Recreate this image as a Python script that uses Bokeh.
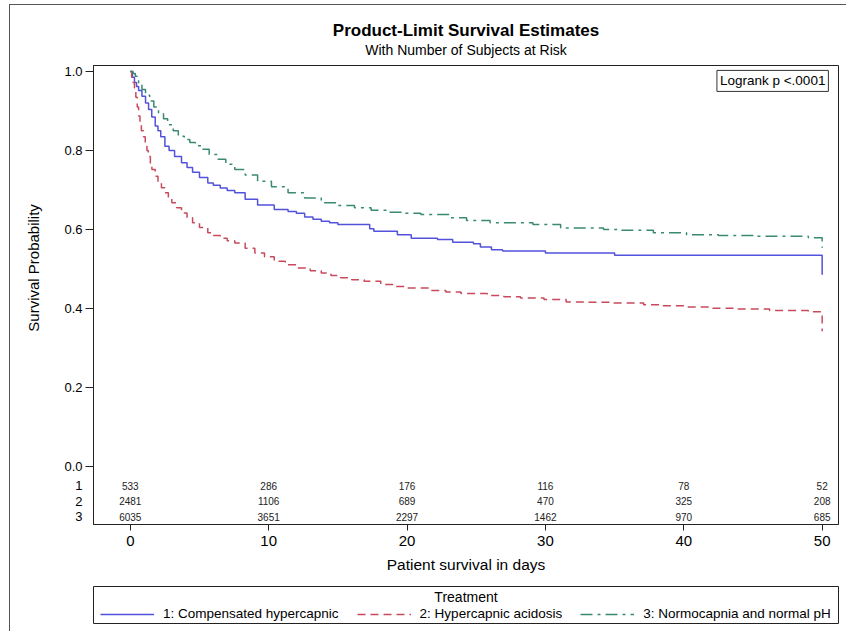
from bokeh.plotting import figure
from bokeh.layouts import column
from bokeh.models import (Range1d, FixedTicker, Label, Legend, LegendItem,
                          ColumnDataSource, PrintfTickFormatter, Title, LinearAxis)
from bokeh.core.properties import value
from bokeh.embed import file_html
from bokeh.resources import INLINE

FONT = "Liberation Sans"
NB = "\u00a0"

# ---------------- data ----------------
blue_t = [0, 0.15, 0.3, 0.45, 0.6, 0.84, 1.1, 1.32, 1.55, 1.8, 2.0, 2.2, 2.5, 2.8, 3.2,
          3.7, 4.1, 4.5, 5.0, 5.6, 6.0, 6.5, 7.0, 7.55, 8.3, 9.2, 10.4, 11.4, 12.0, 12.6,
          13.2, 13.8, 14.4, 15.0, 17.3, 17.6, 19.3, 20.3, 22.2, 23.3, 24.8, 25.3, 26.1,
          26.9, 30.0, 35.0, 50.0, 50.0]
blue_s = [1.0, 0.985, 0.972, 0.962, 0.952, 0.937, 0.92, 0.904, 0.885, 0.862, 0.85, 0.835,
          0.811, 0.8, 0.785, 0.769, 0.757, 0.745, 0.732, 0.718, 0.712, 0.705, 0.699, 0.693,
          0.677, 0.662, 0.651, 0.646, 0.641, 0.632, 0.626, 0.621, 0.617, 0.613, 0.602,
          0.596, 0.587, 0.578, 0.575, 0.568, 0.564, 0.556, 0.549, 0.546, 0.541, 0.535,
          0.535, 0.486]

red_t = [0, 0.1, 0.2, 0.3, 0.4, 0.5, 0.6, 0.7, 0.8, 0.95, 1.08, 1.2, 1.3, 1.45, 1.56,
         1.8, 2.0, 2.25, 2.5, 2.75, 3.0, 3.35, 3.7, 4.1, 4.5, 5.0, 5.6, 6.0, 6.5, 7.0,
         7.55, 8.3, 9.0, 9.7, 10.4, 11.2, 12.1, 13.0, 13.8, 14.5, 15.2, 16.0, 16.9, 18.1,
         19.0, 19.8, 21.7, 22.8, 23.9, 25.8, 27.0, 28.2, 29.9, 31.5, 33.0, 34.7, 37.1,
         38.5, 40.2, 42.0, 43.8, 46.2, 49.0, 50.0, 50.0]
red_s = [1.0, 0.985, 0.972, 0.958, 0.935, 0.91, 0.887, 0.868, 0.85, 0.835, 0.82, 0.8,
         0.785, 0.768, 0.752, 0.735, 0.72, 0.706, 0.693, 0.68, 0.668, 0.655, 0.642, 0.63,
         0.617, 0.605, 0.592, 0.585, 0.578, 0.572, 0.566, 0.553, 0.541, 0.531, 0.52,
         0.511, 0.503, 0.496, 0.49, 0.484, 0.478, 0.473, 0.469, 0.461, 0.456, 0.452,
         0.446, 0.442, 0.438, 0.433, 0.43, 0.427, 0.423, 0.417, 0.416, 0.414, 0.41,
         0.407, 0.404, 0.401, 0.399, 0.395, 0.392, 0.392, 0.343]

green_t = [0, 0.2, 0.36, 0.6, 0.84, 1.1, 1.4, 1.7, 2.04, 2.4, 2.7, 3.1, 3.47, 3.9, 4.3,
           4.7, 5.16, 5.7, 6.3, 6.9, 7.55, 8.3, 9.2, 10.2, 11.4, 12.6, 13.8, 15.0, 16.2,
           17.4, 18.6, 19.8, 21.0, 23.1, 24.3, 26.0, 29.1, 31.1, 34.2, 35.4, 37.8, 40.2,
           42.5, 45.0, 49.0, 50.0, 50.0]
green_s = [1.0, 0.995, 0.988, 0.97, 0.954, 0.94, 0.925, 0.91, 0.895, 0.88, 0.865, 0.85,
           0.836, 0.828, 0.82, 0.812, 0.803, 0.79, 0.778, 0.765, 0.752, 0.738, 0.722,
           0.708, 0.693, 0.68, 0.668, 0.661, 0.655, 0.649, 0.644, 0.641, 0.638, 0.63,
           0.623, 0.617, 0.613, 0.604, 0.6, 0.598, 0.592, 0.587, 0.585, 0.583, 0.579,
           0.579, 0.554]

risk_times = [0, 10, 20, 30, 40, 50]
risk_1 = [533, 286, 176, 116, 78, 52]
risk_2 = [2481, 1106, 689, 470, 325, 208]
risk_3 = [6035, 3651, 2297, 1462, 970, 685]
risk_rows = ["1", "2", "3"]
risk_row_y = [-0.048, -0.087, -0.127]

group_names = ["1: Compensated hypercapnic", "2: Hypercapnic acidosis",
               "3: Normocapnia and normal pH"]
group_colors = ["#5252dc", "#c84a5c", "#3a8a72"]
group_dashes = ["solid", "8 5", "12 5 3 5"]
x_ticks = [0, 10, 20, 30, 40, 50]
y_ticks = [0.0, 0.2, 0.4, 0.6, 0.8, 1.0]

series_t = [blue_t, red_t, green_t]
series_s = [blue_s, red_s, green_s]

# ---------------- main figure ----------------
p = figure(width=836, height=575, output_backend="svg", toolbar_location=None,
           x_range=Range1d(-2.66, 51.18), y_range=Range1d(-0.146, 1.015),
           min_border_left=78, min_border_right=8, min_border_top=60,
           min_border_bottom=56,
           title="Product-Limit Survival Estimates")
p.xgrid.visible = False
p.ygrid.visible = False
p.outline_line_color = "#222222"
p.outline_line_width = 1
p.background_fill_color = "white"
p.border_fill_color = "white"

# titles (main title outer, subtitle next to the frame)
p.title.align = "center"
p.title.text_font = FONT
p.title.text_font_size = "17px"
p.title.text_font_style = "bold"
p.title.text_color = "black"
p.title.standoff = -17
subtitle = Title(text="With Number of Subjects at Risk", align="center",
                 text_font=FONT, text_font_size="14px", text_font_style="normal",
                 text_color="black", standoff=16)
p.add_layout(subtitle, "above")

# x axis
xa = p.xaxis[0]
xa.ticker = FixedTicker(ticks=x_ticks)
xa.minor_tick_line_color = None
xa.major_tick_out = 6
xa.major_tick_in = 0
xa.major_label_standoff = 5
xa.major_label_text_font = FONT
xa.major_label_text_font_size = "15px"
xa.major_label_text_color = "black"
xa.axis_label = "Patient survival in days"
xa.axis_label_text_font = FONT
xa.axis_label_text_font_style = "normal"
xa.axis_label_text_font_size = "15.5px"
xa.axis_label_text_color = "black"
xa.axis_label_standoff = 7
xa.axis_line_color = "#222222"
xa.major_tick_line_color = "#222222"

# y axis: survival ticks (tick marks as minor ticks) + risk-table row labels
ya = p.yaxis[0]
ya.ticker = FixedTicker(ticks=y_ticks + risk_row_y, minor_ticks=y_ticks)
ya.formatter = PrintfTickFormatter(format="%.1f")
ya.major_label_overrides = {yy: lab for yy, lab in zip(risk_row_y, risk_rows)}
ya.major_tick_out = 0
ya.major_tick_in = 0
ya.minor_tick_out = 8
ya.minor_tick_in = 0
ya.minor_tick_line_color = "#222222"
ya.major_label_standoff = 3
ya.major_label_text_font = FONT
ya.major_label_text_font_size = "13px"
ya.major_label_text_color = "black"
ya.axis_line_color = "#222222"

# outer axis that only carries the y-axis title
ya2 = LinearAxis(ticker=FixedTicker(ticks=[]),
                 axis_line_color=None, major_tick_line_color=None,
                 minor_tick_line_color=None, major_tick_out=0, major_tick_in=0,
                 minor_tick_out=0, minor_tick_in=0, major_label_standoff=0,
                 major_label_text_font_size="0px",
                 axis_label=NB * 13 + "Survival Probability", axis_label_text_font=FONT,
                 axis_label_text_font_style="normal", axis_label_text_font_size="15px",
                 axis_label_text_color="black", axis_label_standoff=20)
p.add_layout(ya2, "left")

# curves
renderers = []
for t, s, col, dash in zip(series_t, series_s, group_colors, group_dashes):
    renderers.append(p.step(t, s, mode="after", line_color=col, line_width=1.5,
                            line_dash=dash))

# risk table
for vals, yy in zip([risk_1, risk_2, risk_3], risk_row_y):
    src = ColumnDataSource(dict(x=risk_times, y=[yy] * len(risk_times),
                                t=[str(v) for v in vals]))
    p.text(x="x", y="y", text="t", source=src, text_align="center",
           text_baseline="middle", text_font=value(FONT), text_font_size="10px",
           text_color="#222222")

# logrank box
p.add_layout(Label(x=50.45, y=0.976, text="Logrank p <.0001", text_align="right",
                   text_baseline="middle", text_font=FONT, text_font_size="13.5px",
                   text_color="black", padding=3, border_line_color="#333333",
                   border_line_width=1, background_fill_color="white"))

# ---------------- legend panel (its frame is the legend box) ----------------
p2 = figure(width=836, height=51, output_backend="svg", toolbar_location=None,
            x_range=Range1d(100, 101), y_range=Range1d(100, 101),
            x_axis_location=None, y_axis_location=None,
            min_border_left=83, min_border_right=8, min_border_top=6,
            min_border_bottom=8)
p2.grid.visible = False
p2.outline_line_color = "#222222"
p2.outline_line_width = 1
p2.background_fill_color = "white"
p2.border_fill_color = "white"

p2.text(x=[100.5], y=[100.72], text=["Treatment"], text_align="center",
        text_baseline="middle", text_font=value(FONT), text_font_size="14px",
        text_color="black")

items = []
for name, t, s, col, dash in zip(group_names, series_t, series_s, group_colors,
                                  group_dashes):
    rr = p2.step(t, s, mode="after", line_color=col, line_width=1.5, line_dash=dash)
    rr.visible = False
    items.append(LegendItem(label=name, renderers=[rr]))
legend = Legend(items=items, orientation="horizontal", location=(7, 2),
                padding=0, spacing=18, glyph_width=54, glyph_height=14,
                label_height=14, label_standoff=9, margin=0,
                label_text_font=FONT, label_text_font_size="13.5px",
                label_text_color="black", border_line_color=None,
                background_fill_alpha=0.0, click_policy="none")
p2.add_layout(legend)

layout = column(p, p2, spacing=0)
layout.styles = {"margin-left": "9px", "margin-top": "4px",
                 "border-left": "1.5px solid #555555",
                 "border-top": "1.5px solid #555555"}

open("out.html", "w").write(file_html(layout, INLINE))
